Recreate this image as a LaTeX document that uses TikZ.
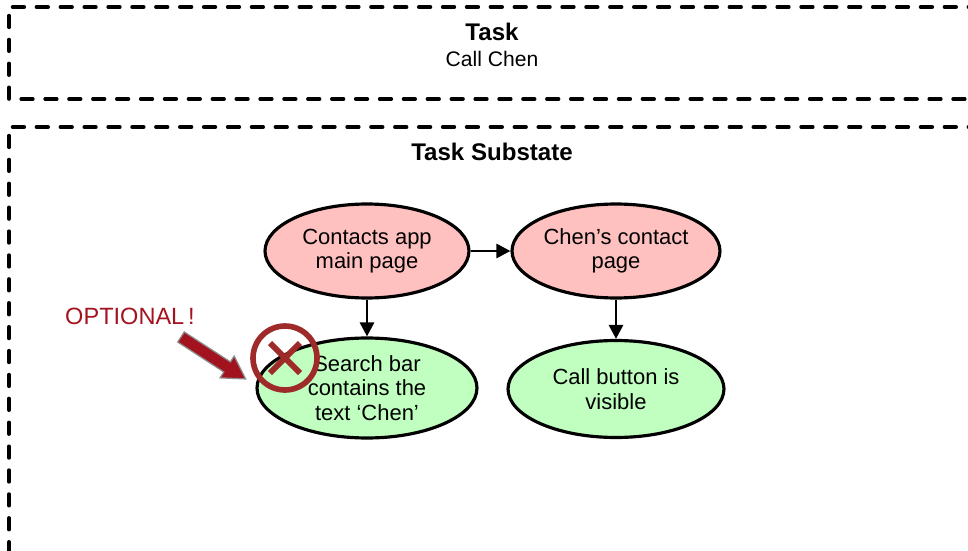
\documentclass[tikz,border=0pt]{standalone}
\usepackage{fontspec}
\setmainfont{Liberation Sans}
\usepackage{xcolor}
\usetikzlibrary{shapes}
\usetikzlibrary{arrows.meta}
\definecolor{pagepink}{HTML}{FFC0C0}
\definecolor{checkgreen}{HTML}{C0FFC0}
\definecolor{optred}{HTML}{A3131F}
\definecolor{crossred}{HTML}{9E2A2A}
\definecolor{arrowgray}{HTML}{8A8A8A}

\begin{document}
\begin{tikzpicture}[x=0.02cm, y=0.02cm,
  frame/.style={line width=2.1pt, dash pattern=on 6.6pt off 7pt, line cap=round},
  state/.style={ellipse, draw, line width=1.8pt, inner sep=0pt, align=center,
    font=\fontsize{12.5}{14}\selectfont},
  flow/.style={line width=1.6pt, -{Triangle[length=8pt,width=8pt]}},
  title/.style={font=\fontsize{13.7}{15}\selectfont\bfseries}]
 \useasboundingbox (0,0) rectangle (968,-551);
% the two dashed frames, open to the right
\draw[frame] (980,-7) -- (9,-7) -- (9,-99) -- (980,-99);
\draw[frame] (980,-127) -- (9,-127) -- (9,-570);
\node[title] (task) at (492,-32) {Task};
\node[font=\fontsize{12}{14}\selectfont] (goal) at (492,-59) {Call Chen};
\node[title] (substate) at (492,-152) {Task Substate};
% states
\node[state, fill=pagepink, minimum width=4.08cm, minimum height=1.88cm] (contacts) at (367,-251) {Contacts app\\main page};
\node[state, fill=pagepink, minimum width=4.16cm, minimum height=1.88cm] (chenpage) at (616,-251) {Chen’s contact\\page};
\node[state, fill=checkgreen, minimum width=4.4cm, minimum height=2.0cm] (search) at (367,-388) {Search bar\\contains the\\text ‘Chen’};
\node[state, fill=checkgreen, minimum width=4.32cm, minimum height=1.94cm] (callbtn) at (616,-389) {Call button is\\visible};
\draw[flow] (contacts) -- (chenpage);
\draw[flow] (contacts) -- (search);
\draw[flow] (chenpage) -- (callbtn);
% optional mark
\node[text=optred, font=\fontsize{13.4}{15}\selectfont] (optional) at (130,-316) {OPTIONAL\,!};
\begin{scope}[shift={(181,-337)}, rotate=-33]
\draw[fill=optred, draw=arrowgray, line width=0.7pt] (0,6) -- (55,6) -- (55,13) -- (77,0) -- (55,-13) -- (55,-6) -- (0,-6) -- cycle;
\end{scope}
\draw[crossred, line width=3.2pt] (285,-358) circle[radius=32];
\draw[crossred, line width=3.4pt] (270,-343) -- (300,-373) (300,-343) -- (270,-373);
\end{tikzpicture}
\end{document}
